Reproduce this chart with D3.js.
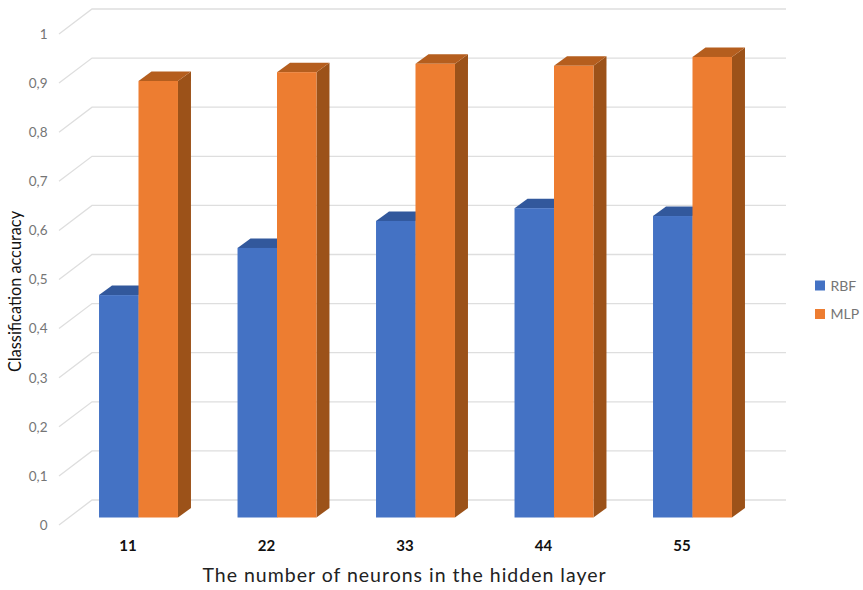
<!DOCTYPE html>
<html><head><meta charset="utf-8">
<script src="https://cdn.jsdelivr.net/npm/d3@7/dist/d3.min.js"></script>
<style>html,body{margin:0;padding:0;background:#fff}svg{display:block}text{font-family:Lato,"Open Sans",sans-serif}</style>
</head><body><svg id="c" width="863" height="590"></svg>
<script>
const categories = ["11","22","33","44","55"];
const seriesNames = ["RBF","MLP"];
const rbfValues = [0.453,0.549,0.604,0.630,0.614];
const mlpValues = [0.889,0.907,0.924,0.920,0.938];
const tickValues = [0,0.1,0.2,0.3,0.4,0.5,0.6,0.7,0.8,0.9,1];
const tickLabels = ["0","0,1","0,2","0,3","0,4","0,5","0,6","0,7","0,8","0,9","1"];
const xTitle = "The number of neurons in the hidden layer";
const yTitle = "Classification accuracy";

const faces = {
  RBF:{front:"#4472C4",top:"#32589C",side:"#2F5597"},
  MLP:{front:"#ED7D31",top:"#B55E1E",side:"#9C5219"}
};
const svg = d3.select("#c");
const y = d3.scaleLinear().domain([0,1]).range([500,9]);       // back wall
const x = d3.scaleBand().domain(categories).range([69.25,761.75]).paddingInner(0.43).paddingOuter(0.215);
const sub = d3.scaleBand().domain(seriesNames).range([0,x.bandwidth()]);
const wall = {dx:33, dy:25}, barOffset = 17.5, depth = {dx:13, dy:9.5};
const wallX = 92, backRight = 786;

// gridlines
const grid = svg.append("g").attr("stroke","#dedede").attr("stroke-width",1.3).attr("fill","none");
grid.selectAll("path").data(tickValues).join("path")
  .attr("d",v=>`M${wallX-wall.dx},${y(v)+wall.dy}L${wallX},${y(v)}L${backRight},${y(v)}`);

// axis labels
const yAxis = d3.axisLeft(y.copy().range([y(0)+wall.dy,y(1)+wall.dy]))
  .tickValues(tickValues).tickSize(0).tickPadding(0)
  .tickFormat((d,i)=>tickLabels[i]);
const ya = svg.append("g").attr("transform","translate(47.5,0)").call(yAxis);
ya.select(".domain").remove();
ya.selectAll("text").attr("fill","#757575").style("font-size","13.5px").style("font-family","Lato");

const xAxis = d3.axisBottom(x).tickSize(0).tickPadding(0);
const xa = svg.append("g").attr("transform","translate(-10.5,540)").call(xAxis);
xa.select(".domain").remove();
xa.selectAll("text").attr("fill","#111").attr("font-weight","700").style("font-size","15px").style("font-family","Lato");

// bars
const rows = [];
categories.forEach((c,i)=>{
  rows.push({c,s:"RBF",v:rbfValues[i]});
  rows.push({c,s:"MLP",v:mlpValues[i]});
});
const bars = svg.append("g").selectAll("g").data(rows).join("g");
const X0 = d=>x(d.c)+sub(d.s), X1 = d=>X0(d)+sub.bandwidth();
const Y0 = ()=>y(0)+barOffset, Y1 = d=>y(d.v)+barOffset;
bars.append("path").attr("fill",d=>faces[d.s].side)
  .attr("d",d=>`M${X1(d)},${Y1(d)}L${X1(d)+depth.dx},${Y1(d)-depth.dy}L${X1(d)+depth.dx},${Y0()-depth.dy}L${X1(d)},${Y0()}Z`);
bars.append("path").attr("fill",d=>faces[d.s].top)
  .attr("d",d=>`M${X0(d)},${Y1(d)}L${X0(d)+depth.dx},${Y1(d)-depth.dy}L${X1(d)+depth.dx},${Y1(d)-depth.dy}L${X1(d)},${Y1(d)}Z`);
bars.append("rect").attr("fill",d=>faces[d.s].front)
  .attr("x",X0).attr("y",Y1).attr("width",sub.bandwidth()).attr("height",d=>Y0()-Y1(d));

// titles
svg.append("text").attr("x",404.5).attr("y",582).attr("text-anchor","middle")
  .attr("fill","#222").style("font-size","19.5px").style("letter-spacing","1px").text(xTitle);
svg.append("text").attr("transform","translate(21,291.5) rotate(-90)").attr("text-anchor","middle")
  .attr("fill","#111").style("font-size","16.3px").text(yTitle);

// legend
const lg = svg.append("g").selectAll("g").data(seriesNames).join("g")
  .attr("transform",(d,i)=>`translate(815,${280.5+i*28.5})`);
lg.append("rect").attr("width",10).attr("height",10).attr("fill",d=>faces[d].front);
lg.append("text").attr("x",15.5).attr("y",10).attr("fill","#757575").style("font-size","14px").text(d=>d);
</script></body></html>
